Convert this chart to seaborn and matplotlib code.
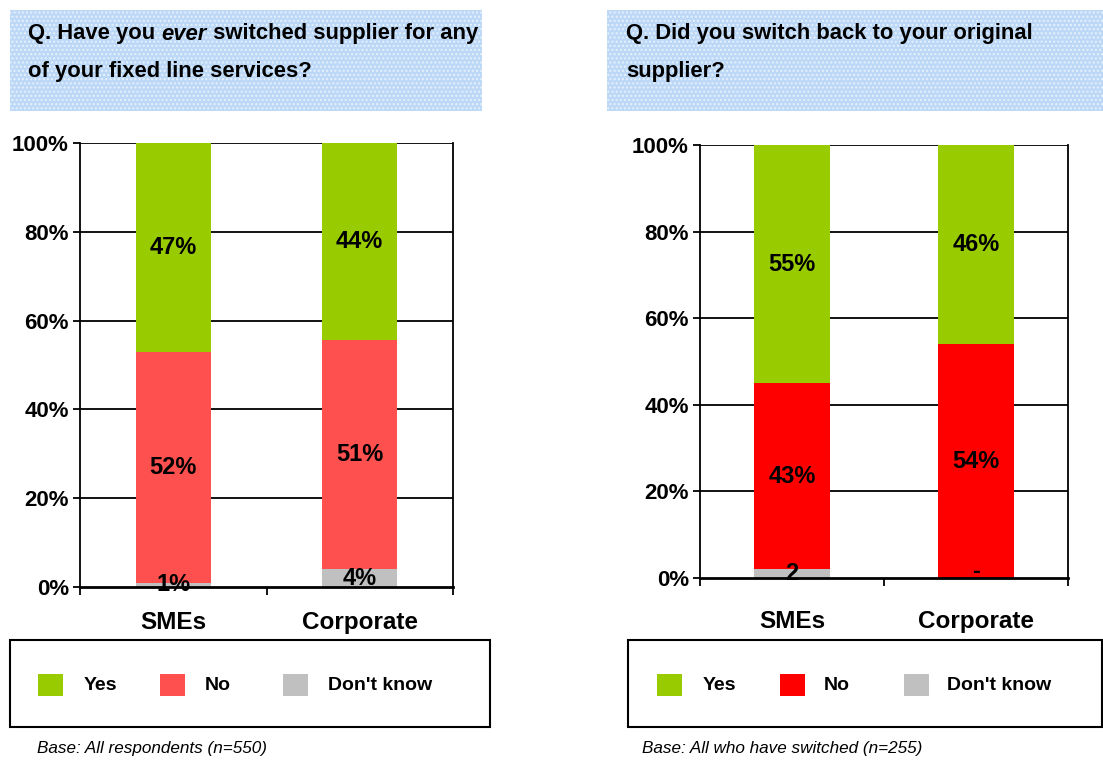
import matplotlib
matplotlib.use("Agg")
import matplotlib.pyplot as plt
from matplotlib.patches import Rectangle
import seaborn as sns
import numpy as np
import pandas as pd

# ---------------- data ----------------
categories = ["SMEs", "Corporate"]
series = ["Yes", "No", "Don't know"]

left_yes = [47, 44]
left_no = [52, 51]
left_dk = [1, 4]
left_labels_yes = ["47%", "44%"]
left_labels_no = ["52%", "51%"]
left_labels_dk = ["1%", "4%"]

right_yes = [55, 46]
right_no = [43, 54]
right_dk = [2, 0]
right_labels_yes = ["55%", "46%"]
right_labels_no = ["43%", "54%"]
right_labels_dk = ["2", "-"]

yticks = [0, 20, 40, 60, 80, 100]
ytick_labels = ["0%", "20%", "40%", "60%", "80%", "100%"]

left_title = ["Q. Have you ", "ever", " switched supplier for any", "of your fixed line services?"]
right_title = ["Q. Did you switch back to your original", "supplier?"]
left_base = "Base: All respondents (n=550)"
right_base = "Base: All who have switched (n=255)"

# ---------------- style ----------------
sns.set_theme(style="white")
plt.rcParams["font.family"] = ["Liberation Sans", "DejaVu Sans"]
plt.rcParams["text.color"] = "black"
plt.rcParams["xtick.color"] = "black"
plt.rcParams["ytick.color"] = "black"
plt.rcParams["axes.labelcolor"] = "black"

W, H = 1103, 763
fig = plt.figure(figsize=(W / 100, H / 100), dpi=100)
fig.patch.set_facecolor("white")


def fx(px):
    return px / W


def fy(py):
    return 1 - py / H


GREEN = "#99CC00"
GREY = "#C0C0C0"


def draw_panel(rect, yes, no, dk, lab_yes, lab_no, lab_dk, red, bar_w, xpad):
    ax = fig.add_axes(rect)
    tot = np.array(yes) + np.array(no) + np.array(dk)
    yes_n = np.array(yes) / tot * 100
    no_n = np.array(no) / tot * 100
    dk_n = np.array(dk) / tot * 100
    cum_dk = dk_n
    cum_no = dk_n + no_n
    cum_yes = cum_no + yes_n
    df = pd.DataFrame({"cat": categories, "yes": cum_yes, "no": cum_no, "dk": cum_dk})
    sns.barplot(data=df, x="cat", y="yes", color=GREEN, saturation=1, width=bar_w,
                ax=ax, linewidth=0, zorder=3)
    sns.barplot(data=df, x="cat", y="no", color=red, saturation=1, width=bar_w,
                ax=ax, linewidth=0, zorder=3)
    sns.barplot(data=df, x="cat", y="dk", color=GREY, saturation=1, width=bar_w,
                ax=ax, linewidth=0, zorder=3)
    ax.set_xlim(-0.5, 1.5)
    ax.set_ylim(0, 100)
    ax.set_yticks(yticks)
    ax.set_yticklabels(ytick_labels, fontsize=16, fontweight="bold", color="black")
    ax.set_xticks([0, 1])
    ax.set_xticklabels(categories, fontsize=17.5, fontweight="bold", color="black")
    ax.set_xlabel("")
    ax.set_ylabel("")
    ax.grid(False)
    for y in yticks[1:]:
        ax.axhline(y, color="black", lw=1.3, zorder=1)
    for s in ["left", "right", "bottom"]:
        ax.spines[s].set_visible(True)
        ax.spines[s].set_color("black")
    ax.spines["left"].set_linewidth(1.3)
    ax.spines["right"].set_linewidth(1.3)
    ax.spines["bottom"].set_linewidth(2)
    ax.spines["top"].set_visible(False)
    ax.spines["bottom"].set_zorder(5)
    ax.tick_params(axis="y", which="major", left=True, length=5, width=1.3,
                   direction="out", pad=3, colors="black")
    ax.tick_params(axis="x", which="major", bottom=False, pad=xpad, colors="black")
    ax.set_xticks([-0.5, 0.5, 1.5], minor=True)
    ax.tick_params(axis="x", which="minor", bottom=True, length=6, width=1.3,
                   direction="out", color="black")
    for i in range(len(categories)):
        ax.text(i, dk_n[i] + no_n[i] + yes_n[i] / 2, lab_yes[i], ha="center", va="center",
                fontsize=17, fontweight="bold", color="black", zorder=6)
        ax.text(i, dk_n[i] + no_n[i] / 2, lab_no[i], ha="center", va="center",
                fontsize=17, fontweight="bold", color="black", zorder=6)
        ypos = dk_n[i] / 2 if dk_n[i] > 0 else 1.5
        ax.text(i, ypos, lab_dk[i], ha="center", va="center",
                fontsize=17, fontweight="bold", color="black", zorder=6)
    return ax


# left panel
draw_panel([fx(80), fy(587), fx(373), (587 - 143) / H],
           left_yes, left_no, left_dk, left_labels_yes, left_labels_no, left_labels_dk,
           "#FF5050", 0.4, 11)
# right panel
draw_panel([fx(700), fy(578), fx(368), (578 - 145) / H],
           right_yes, right_no, right_dk, right_labels_yes, right_labels_no, right_labels_dk,
           "#FF0000", 0.41, 17)

# ---------------- title boxes ----------------
for (x0, x1) in [(10, 482), (607, 1103)]:
    r = Rectangle((fx(x0), fy(111)), fx(x1 - x0), (111 - 10) / H, transform=fig.transFigure,
                  facecolor="#BCD8F6", edgecolor="#E6F1FC", hatch="....", lw=0, zorder=0)
    fig.patches.append(r)

tfs = 15.8
ty1, ty2 = 34, 72
# left title, line 1 with italic "ever"
t1 = fig.text(fx(28), fy(ty1), left_title[0], fontsize=tfs, fontweight="bold", va="center", ha="left")
fig.canvas.draw()
r = fig.canvas.get_renderer()
bb = t1.get_window_extent(r)
t2 = fig.text(bb.x1 / W, fy(ty1), left_title[1], fontsize=tfs, fontweight="bold",
              fontstyle="italic", va="center", ha="left")
bb2 = t2.get_window_extent(r)
fig.text(bb2.x1 / W, fy(ty1), left_title[2], fontsize=tfs, fontweight="bold", va="center", ha="left")
fig.text(fx(28), fy(ty2), left_title[3], fontsize=tfs, fontweight="bold", va="center", ha="left")
# right title
fig.text(fx(626), fy(ty1), right_title[0], fontsize=tfs, fontweight="bold", va="center", ha="left")
fig.text(fx(626), fy(ty2), right_title[1], fontsize=tfs, fontweight="bold", va="center", ha="left")

# ---------------- legend boxes ----------------
for (x0, x1) in [(10, 490), (628, 1102)]:
    rr = Rectangle((fx(x0), fy(727)), fx(x1 - x0), (727 - 640) / H, transform=fig.transFigure,
                   facecolor="white", edgecolor="black", lw=1.5, zorder=1)
    fig.patches.append(rr)

legend_sets = [
    ([38, 160, 283], [84, 205, 328], ["#99CC00", "#FF5050", GREY]),
    ([657, 780, 904], [703, 824, 947], ["#99CC00", "#FF0000", GREY]),
]
for sq_x, tx_x, cols in legend_sets:
    for sx, tx, c, name in zip(sq_x, tx_x, cols, series):
        sq = Rectangle((fx(sx), fy(696)), fx(25), 22 / H, transform=fig.transFigure,
                       facecolor=c, edgecolor="none", zorder=2)
        fig.patches.append(sq)
        fig.text(fx(tx), fy(685), name, fontsize=14, fontweight="bold", va="center", ha="left")

# base notes
fig.text(fx(37), fy(749), left_base, fontsize=12.3, fontstyle="italic", va="center", ha="left")
fig.text(fx(642), fy(749), right_base, fontsize=12.3, fontstyle="italic", va="center", ha="left")

fig.savefig("out.png", dpi=100, facecolor="white")
